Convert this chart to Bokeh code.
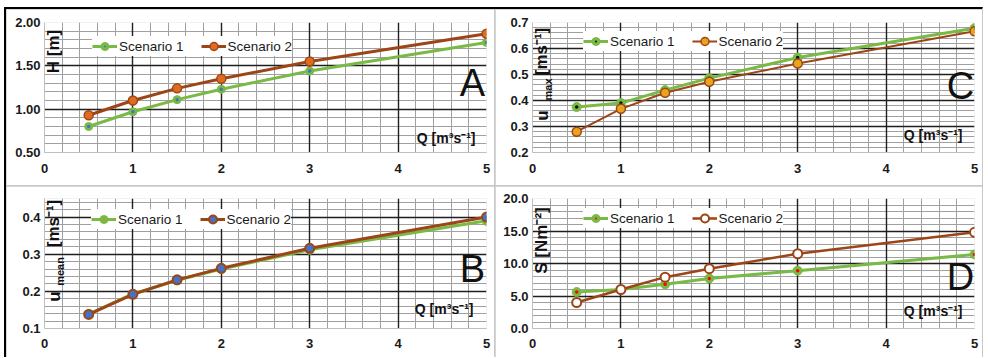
import numpy as np
from bokeh.plotting import figure
from bokeh.models import (Range1d, FixedTicker, PrintfTickFormatter, Label,
                          Legend, LegendItem, ColumnDataSource, Grid)
from bokeh.layouts import row, column
from bokeh.embed import file_html
from bokeh.resources import INLINE

# ---------------- data ----------------
Q = [0.5, 1.0, 1.5, 2.0, 3.0, 5.0]
x_ticks = [0, 1, 2, 3, 4, 5]

H_s1 = [0.80, 0.97, 1.11, 1.23, 1.44, 1.77]
H_s2 = [0.93, 1.10, 1.24, 1.35, 1.55, 1.87]
H_ticks = [0.5, 1.0, 1.5, 2.0]

umax_s1 = [0.375, 0.390, 0.440, 0.486, 0.565, 0.678]
umax_s2 = [0.280, 0.368, 0.430, 0.472, 0.542, 0.666]
umax_ticks = [0.2, 0.3, 0.4, 0.5, 0.6, 0.7]

umean_s1 = [0.139, 0.193, 0.230, 0.260, 0.312, 0.390]
umean_s2 = [0.138, 0.192, 0.231, 0.262, 0.316, 0.400]
umean_ticks = [0.1, 0.2, 0.3, 0.4]

S_s1 = [5.6, 6.0, 6.8, 7.7, 8.9, 11.4]
S_s2 = [4.0, 6.0, 7.9, 9.2, 11.5, 14.8]
S_ticks = [0, 5, 10, 15, 20]

series_names = ["Scenario 1", "Scenario 2"]

# ---------------- styles ----------------
GREEN = "#78BA45"
BROWN = "#9C4517"
MAJOR = "#1F1F1F"
MINOR = "#A0A0A0"
FONT = "Liberation Sans"


def make_panel(W, H, bl, br, bt, bb, yr, yticks, yfmt, ymajor, ystep,
               ys1, ys2, st1, st2, leg_x, leg_pad, xstand,
               ylabels, q_off, letter, let_pos):
    p = figure(width=W, height=H, x_range=Range1d(0, 5),
               y_range=Range1d(*yr), output_backend="svg",
               toolbar_location=None, min_border_left=bl,
               min_border_right=br, min_border_top=bt, min_border_bottom=bb,
               background_fill_color="white", border_fill_color="white",
               outline_line_color=None)
    p.title.visible = False
    fw = W - bl - br
    fh = H - bt - bb

    # axes
    p.xaxis.ticker = FixedTicker(ticks=x_ticks)
    p.yaxis.ticker = FixedTicker(ticks=yticks)
    p.yaxis.formatter = PrintfTickFormatter(format=yfmt)
    for ax in (p.xaxis[0], p.yaxis[0]):
        ax.major_tick_line_color = None
        ax.minor_tick_line_color = None
        ax.major_tick_in = 0
        ax.major_tick_out = 0
        ax.minor_tick_in = 0
        ax.minor_tick_out = 0
        ax.axis_line_color = "#BFBFBF"
        ax.major_label_text_font = FONT
        ax.major_label_text_font_size = "13px"
        ax.major_label_text_font_style = "bold"
        ax.major_label_text_color = "#1A1A1A"
    p.xaxis.major_label_standoff = xstand
    p.yaxis.major_label_standoff = 4

    # grids: minor lines first (both directions), then major lines on top
    xmaj = [1, 2, 3, 4]
    xminor = [float(v) for v in np.round(np.arange(0, 5.0001, 0.2), 4)
              if all(abs(v - m) > 1e-6 for m in xmaj)]
    lo, hi = yr
    yminor = [float(v) for v in np.round(np.arange(lo, hi + 1e-9, ystep), 4)
              if all(abs(v - m) > 1e-6 for m in ymajor)]
    if all(abs(hi - v) > 1e-6 for v in yminor + list(ymajor)):
        yminor.append(hi)
    p.xgrid.ticker = FixedTicker(ticks=[], minor_ticks=xminor)
    p.ygrid.ticker = FixedTicker(ticks=[], minor_ticks=yminor)
    for g in (p.xgrid[0], p.ygrid[0]):
        g.grid_line_color = None
        g.minor_grid_line_color = MINOR
        g.minor_grid_line_width = 1
    for dim, maj in ((0, xmaj), (1, list(ymajor))):
        p.add_layout(Grid(dimension=dim, ticker=FixedTicker(ticks=maj),
                          grid_line_color=MAJOR, grid_line_width=1.4,
                          minor_grid_line_color=None), "center")

    items = []
    for name, ys, st in ((series_names[0], ys1, st1), (series_names[1], ys2, st2)):
        src = ColumnDataSource(dict(x=Q, y=ys))
        ln = p.line("x", "y", source=src, line_color=st["lc"], line_width=st["lw"])
        outer = p.scatter("x", "y", source=src, marker="circle", size=st["ms"],
                          fill_color=st["mf"], line_color=st["ml"], line_width=st["mlw"])
        rends = [ln, outer]
        if st.get("dot"):
            dot = p.scatter("x", "y", source=src, marker="dot", size=14,
                            line_color=st["dot"], fill_color=st["dot"])
            rends.append(dot)
        items.append(LegendItem(label=name, renderers=rends))

    leg_h = 2 * leg_pad + 20
    leg = Legend(items=items, orientation="horizontal",
                 location=(leg_x, fh - leg_h),
                 glyph_width=25, glyph_height=20, label_height=16,
                 label_standoff=2, spacing=17, padding=leg_pad, margin=0,
                 border_line_color=None, background_fill_color="white",
                 background_fill_alpha=1.0, label_text_font=FONT,
                 label_text_font_size="13.5px", label_text_color="#1A1A1A")
    p.add_layout(leg)

    for txt, sx, sy, sz in ylabels:
        p.add_layout(Label(x=sx, y=sy, x_units="screen", y_units="screen",
                           text=txt, angle=np.pi / 2, text_align="center",
                           text_baseline="middle", text_font=FONT,
                           text_font_size=sz, text_font_style="bold",
                           text_color="#111111"))
    qx, qy = q_off
    p.add_layout(Label(x=fw - qx, y=qy, x_units="screen", y_units="screen",
                       text="Q [m³s⁻¹]", text_align="right", text_baseline="middle",
                       text_font=FONT, text_font_size="14px",
                       text_font_style="bold", text_color="#111111"))
    lx, ly = let_pos
    p.add_layout(Label(x=lx, y=ly, x_units="screen", y_units="screen",
                       text=letter, text_align="center", text_baseline="middle",
                       text_font=FONT, text_font_size="38px",
                       text_color="#111111"))
    return p


A_s1 = dict(lc=GREEN, lw=3, ms=8, mf=GREEN, ml=GREEN, mlw=1, dot="#4472C4")
A_s2 = dict(lc=BROWN, lw=3, ms=9, mf="#DD6B20", ml="#A0461A", mlw=1.5)
C_s1 = dict(lc=GREEN, lw=3, ms=9, mf=GREEN, ml=GREEN, mlw=1, dot="#111111")
C_s2 = dict(lc=BROWN, lw=2, ms=9, mf="#EBA21C", ml=BROWN, mlw=1.5)
B_s1 = dict(lc=GREEN, lw=3, ms=9, mf=GREEN, ml=GREEN, mlw=1, dot="#ED7D31")
B_s2 = dict(lc=BROWN, lw=3, ms=9, mf="#4472C4", ml=BROWN, mlw=2)
D_s1 = dict(lc=GREEN, lw=3, ms=9, mf=GREEN, ml=GREEN, mlw=1, dot="#FF0000")
D_s2 = dict(lc=BROWN, lw=2.5, ms=9, mf="white", ml=BROWN, mlw=2)

pA = make_panel(488, 176, 38, 8, 11, 33, (0.5, 2.0), H_ticks, "%.2f",
                [1.0, 1.5, 2.0], 0.1, H_s1, H_s2, A_s1, A_s2, 48, 8, 11,
                [("H [m]", 9, 101, "17px")], (11, 15), "A", (428, 70))
pC = make_panel(487, 176, 37, 8, 13, 32, (0.2, 0.7), umax_ticks, "%.1f",
                [0.3, 0.4, 0.5, 0.6, 0.7], 0.02, umax_s1, umax_s2, C_s1, C_s2,
                51, 5, 11,
                [("u", 10, 37, "17px"), ("max", 15, 63, "11px"),
                 ("[ms⁻¹]", 9, 101, "17px")], (12, 18), "C", (428, 67))
pB = make_panel(488, 171, 38, 8, 9, 29, (0.1, 0.45), umean_ticks, "%.1f",
                [0.2, 0.3, 0.4], 0.02, umean_s1, umean_s2, B_s1, B_s2,
                47, 7, 10,
                [("u", 10, 32, "17px"), ("mean", 15, 57, "11px"),
                 ("[ms⁻¹]", 9, 105, "17px")], (13, 20), "B", (428, 60))
pD = make_panel(487, 171, 37, 8, 12, 29, (0, 20), S_ticks, "%.1f",
                [5, 10, 15, 20], 1.0, S_s1, S_s2, D_s1, D_s2, 51, 5, 10,
                [("S [Nm⁻²]", 9, 88, "17px")], (12, 18), "D", (428, 52))

layout = column(row(pA, pC, spacing=1), row(pB, pD, spacing=1), spacing=1,
                styles={"background-color": "#C8C8C8",
                        "margin-left": "4px",
                        "margin-top": "7px",
                        "border-top": "2px solid #000000",
                        "border-left": "2px solid #000000",
                        "border-right": "1px solid #C8C8C8"})

open("out.html", "w").write(file_html(layout, INLINE))
